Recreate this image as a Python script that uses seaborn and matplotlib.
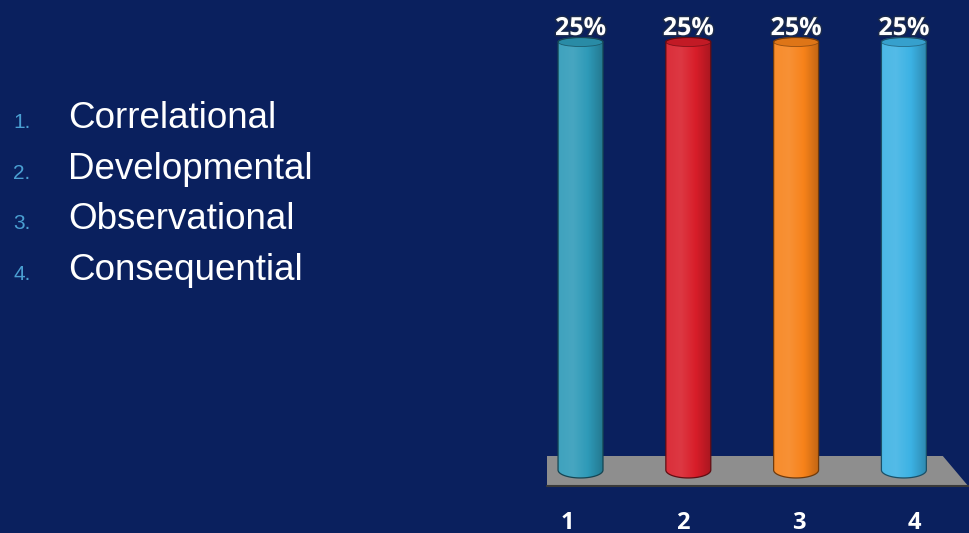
import numpy as np
import pandas as pd
import matplotlib
matplotlib.use("Agg")
import matplotlib.pyplot as plt
import matplotlib.patheffects as pe
from matplotlib.colors import LinearSegmentedColormap, to_rgb
from matplotlib.patches import Ellipse, PathPatch, Polygon
from matplotlib.path import Path
import seaborn as sns

# Poll answers and results
options = ["Correlational", "Developmental", "Observational", "Consequential"]
categories = ["1", "2", "3", "4"]
percent = [25, 25, 25, 25]
bar_colors = ["#2e9ab8", "#d81d29", "#f7821a", "#3cb2e4"]

BG = "#0a205e"

sns.set_theme(style="white")
plt.rcParams["font.family"] = ["Liberation Sans", "DejaVu Sans"]

fig = plt.figure(figsize=(9.69, 5.33), dpi=100, facecolor=BG)

# Answer list on the left
num_color = "#4a9fd2"
for i, label in enumerate(options):
    y = 1 - (128 + 50.7 * i) / 533
    fig.text(13 / 969, y, f"{i + 1}.", color=num_color, fontsize=15, va="baseline", ha="left")
    fig.text(68 / 969, y, label, color="white", fontsize=26.5, va="baseline", ha="left")

# Chart axes on the right
ax = fig.add_axes([547 / 969, 46 / 533, 422 / 969, 467 / 533])
ax.set_facecolor(BG)
for s in ax.spines.values():
    s.set_visible(False)

df = pd.DataFrame({"answer": categories, "pct": percent})
sns.barplot(data=df, x="answer", y="pct", hue="answer", palette=bar_colors,
            width=0.417, legend=False, ax=ax, zorder=2, saturation=1)
bars = list(ax.patches)

XLIM = (-0.311, 3.604)
YLIM = (-0.993, 26.285)

# Grey floor plate with a dark front edge
floor = Polygon([(0, 0), (1, 0), (0.938, 0.0664), (0, 0.0664)], closed=True,
                transform=ax.transAxes, facecolor="#8e8e8e", edgecolor="none", zorder=0.5,
                clip_on=False)
ax.add_patch(floor)
ax.plot([0, 1], [0.003, 0.003], transform=ax.transAxes, color="#3a3a3a", lw=1.5,
        zorder=0.6, clip_on=False)


def mix(c, other, t):
    c = np.array(to_rgb(c))
    o = np.array(to_rgb(other))
    return tuple(c * (1 - t) + o * t)


LABEL_FONT = ["Open Sans", "DejaVu Sans"]
top_h = 0.53
bot_h = 0.93
for bar, base in zip(bars, bar_colors):
    x0 = bar.get_x()
    w = bar.get_width()
    h = bar.get_height()
    cx = x0 + w / 2
    bar.set_visible(False)

    # cylinder silhouette: bottom half-ellipse, sides, top half-ellipse
    t = np.linspace(np.pi, 0, 60)
    bottom = np.column_stack([cx + w / 2 * np.cos(t), -bot_h / 2 * np.sin(t)])
    t2 = np.linspace(0, np.pi, 60)
    top = np.column_stack([cx + w / 2 * np.cos(t2), h + top_h / 2 * np.sin(t2)])
    verts = np.vstack([bottom, top, bottom[:1]])
    codes = [Path.MOVETO] + [Path.LINETO] * (len(verts) - 2) + [Path.CLOSEPOLY]
    shape = PathPatch(Path(verts, codes), transform=ax.transData, facecolor="none",
                      edgecolor=mix(base, "black", 0.55), lw=0.9, zorder=2.3)
    ax.add_patch(shape)

    cmap = LinearSegmentedColormap.from_list(
        "cyl", [mix(base, "white", 0.08), mix(base, "white", 0.12), base,
                mix(base, "black", 0.22)], N=256)
    grad = np.linspace(0, 1, 256)[None, :]
    im = ax.imshow(grad, cmap=cmap, aspect="auto", zorder=2.1,
                   extent=(x0, x0 + w, -bot_h / 2, h + top_h / 2), interpolation="bicubic")
    im.set_clip_path(shape)

    cap = Ellipse((cx, h), w, top_h, facecolor=mix(base, "black", 0.1),
                  edgecolor=mix(base, "black", 0.4), lw=0.6, zorder=2.2)
    ax.add_patch(cap)

    ax.annotate(f"{h:.0f}%", (cx, h), xytext=(0, 5), textcoords="offset points",
                ha="center", va="baseline", color="white", fontsize=18,
                fontweight="bold", family=LABEL_FONT, zorder=5,
                path_effects=[pe.withStroke(linewidth=2.2, foreground="#1b2a4a")])

ax.set_xlim(*XLIM)
ax.set_ylim(*YLIM)
ax.set_yticks([])
ax.set_xlabel("")
ax.set_ylabel("")

# category labels sit on the front edge of the floor (perspective spread)
ax.set_xticks(np.arange(len(categories)) * 1.075 - 0.125)
ax.set_xticklabels(categories, color="white", fontsize=17, fontweight="bold",
                   family=LABEL_FONT)
ax.tick_params(axis="x", length=0, pad=17)
ax.grid(False)

fig.savefig("out.png", dpi=100, facecolor=BG)
